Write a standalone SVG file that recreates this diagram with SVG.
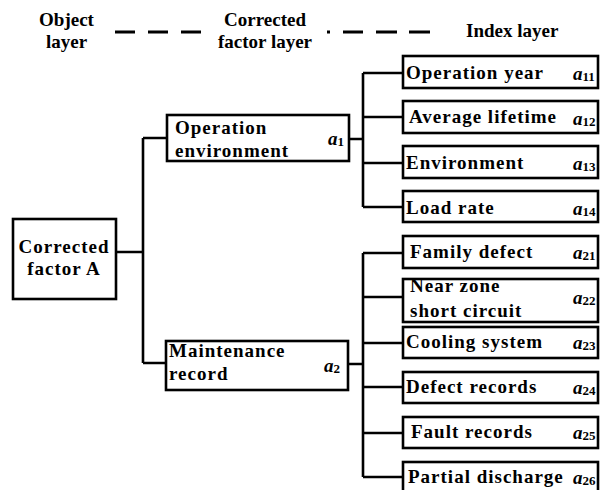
<svg xmlns="http://www.w3.org/2000/svg" width="608" height="490" viewBox="0 0 608 490">
<style>
.box{fill:#fff;stroke:#000;stroke-width:2.6}
.ln{fill:none;stroke:#000;stroke-width:2.6}
.dash{fill:none;stroke:#000;stroke-width:3}
.t{font-family:"Liberation Serif","Times New Roman",serif;font-weight:bold;font-size:19px;letter-spacing:1px;fill:#000}
.h{font-family:"Liberation Serif","Times New Roman",serif;font-weight:bold;font-size:19px;fill:#000}
.a{font-family:"Liberation Serif","Times New Roman",serif;font-weight:bold;font-style:italic;font-size:19px;fill:#000}
.s{font-style:normal;font-size:13px}
</style>
<rect width="608" height="490" fill="#fff"/>
<g id="header">
<text class="h" x="66.5" y="26" text-anchor="middle">Object</text>
<text class="h" x="66.5" y="48" text-anchor="middle">layer</text>
<text class="h" x="265" y="26" text-anchor="middle">Corrected</text>
<text class="h" x="265" y="48" text-anchor="middle">factor layer</text>
<text class="h" x="466" y="37">Index layer</text>
<path class="dash" d="M115 32H135M148 32H168M181 32H201M327 32H330M343 32H363M376 32H397M409 32H430"/>
</g>
<g id="connectors">
<path class="ln" d="M116 252H143M143 138V363M143 138H167M143 363H166"/>
<path class="ln" d="M349 139H363M363 73V207M363 73H403M363 117H403M363 163H403M363 207H403"/>
<path class="ln" d="M348 364H363M363 253V477M363 253H403M363 297H403M363 343H403M363 387H403M363 433H403M363 477H403"/>
</g>
<g id="nodeA">
<rect class="box" x="13" y="219" width="103" height="80"/>
<text class="t" x="64" y="253" text-anchor="middle">Corrected</text>
<text class="t" x="64" y="275" text-anchor="middle">factor A</text>
</g>
<g id="node-a1">
<rect class="box" x="167" y="115" width="182" height="46"/>
<text class="t" x="175" y="134">Operation</text>
<text class="t" x="175" y="157">environment</text>
<text class="a" x="328" y="145">a<tspan class="s" dy="1">1</tspan></text>
</g>
<g id="node-a2">
<rect class="box" x="166" y="341" width="182" height="49"/>
<text class="t" x="169" y="357">Maintenance</text>
<text class="t" x="169" y="380">record</text>
<text class="a" x="324" y="372">a<tspan class="s" dy="1">2</tspan></text>
</g>
<g id="node-a11">
<rect class="box" x="403" y="56" width="195" height="32"/>
<text class="t" x="406" y="79">Operation year</text>
<text class="a" x="573" y="80">a<tspan class="s" dy="1">11</tspan></text>
</g>
<g id="node-a12">
<rect class="box" x="403" y="101" width="195" height="32"/>
<text class="t" x="409" y="123">Average lifetime</text>
<text class="a" x="573" y="125">a<tspan class="s" dy="1">12</tspan></text>
</g>
<g id="node-a13">
<rect class="box" x="403" y="146" width="195" height="32"/>
<text class="t" x="406" y="169">Environment</text>
<text class="a" x="573" y="170">a<tspan class="s" dy="1">13</tspan></text>
</g>
<g id="node-a14">
<rect class="box" x="403" y="191" width="195" height="31"/>
<text class="t" x="406" y="214">Load rate</text>
<text class="a" x="573" y="215">a<tspan class="s" dy="1">14</tspan></text>
</g>
<g id="node-a21">
<rect class="box" x="403" y="236" width="195" height="32"/>
<text class="t" x="410" y="258">Family defect</text>
<text class="a" x="573" y="259">a<tspan class="s" dy="1">21</tspan></text>
</g>
<g id="node-a22">
<rect class="box" x="403" y="279" width="195" height="43"/>
<text class="t" x="410" y="292">Near zone</text>
<text class="t" x="410" y="317">short circuit</text>
<text class="a" x="573" y="304">a<tspan class="s" dy="1">22</tspan></text>
</g>
<g id="node-a23">
<rect class="box" x="403" y="327" width="195" height="31"/>
<text class="t" x="406" y="348">Cooling system</text>
<text class="a" x="573" y="349">a<tspan class="s" dy="1">23</tspan></text>
</g>
<g id="node-a24">
<rect class="box" x="403" y="372" width="195" height="31"/>
<text class="t" x="406" y="393">Defect records</text>
<text class="a" x="573" y="394">a<tspan class="s" dy="1">24</tspan></text>
</g>
<g id="node-a25">
<rect class="box" x="403" y="417" width="195" height="31"/>
<text class="t" x="411" y="438">Fault records</text>
<text class="a" x="573" y="439">a<tspan class="s" dy="1">25</tspan></text>
</g>
<g id="node-a26">
<rect class="box" x="403" y="462" width="195" height="32"/>
<text class="t" x="408" y="483">Partial discharge</text>
<text class="a" x="573" y="484">a<tspan class="s" dy="1">26</tspan></text>
</g>
</svg>
